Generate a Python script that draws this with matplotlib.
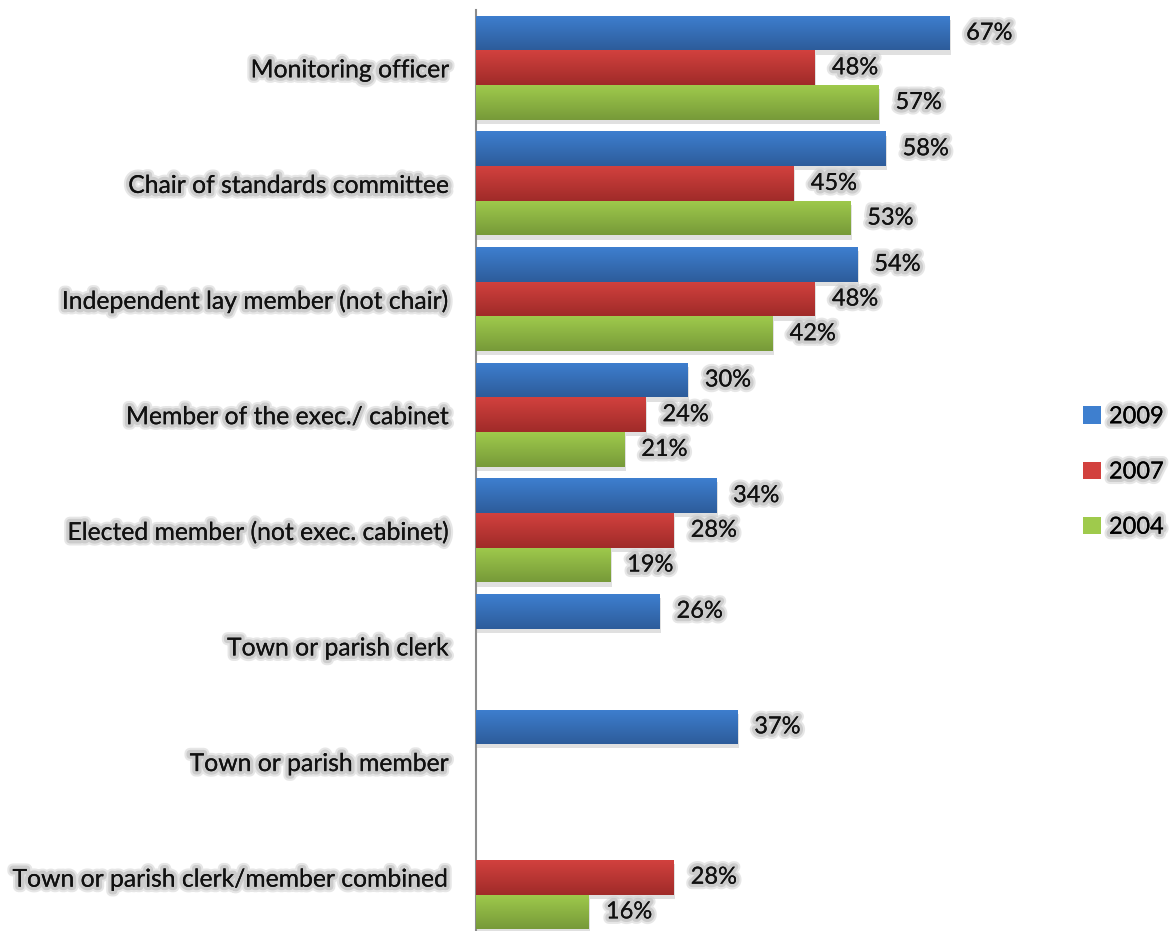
import numpy as np
import matplotlib.pyplot as plt
import matplotlib.patheffects as pe
from matplotlib.patches import Patch
from matplotlib.colors import LinearSegmentedColormap

plt.rcParams['font.family'] = ['Lato', 'DejaVu Sans']

categories = [
    "Monitoring officer",
    "Chair of standards committee",
    "Independent lay member (not chair)",
    "Member of the exec./ cabinet",
    "Elected member (not exec. cabinet)",
    "Town or parish clerk",
    "Town or parish member",
    "Town or parish clerk/member combined",
]
years = ["2009", "2007", "2004"]
v2009 = [67, 58, 54, 30, 34, 26, 37, None]
v2007 = [48, 45, 48, 24, 28, None, None, 28]
v2004 = [57, 53, 42, 21, 19, None, None, 16]

# top / bottom shade of each series
shades = [("#3e7fcf", "#2d5c9b"), ("#d2413e", "#a02b29"), ("#9fca4c", "#779a39")]

# soft grey halo behind every piece of text
glow = [pe.withStroke(linewidth=8, foreground="#cfcfcf", alpha=0.5),
        pe.withStroke(linewidth=5, foreground="#c2c2c2", alpha=0.7),
        pe.Normal()]
fs = 17

fig = plt.figure(figsize=(11.69, 9.31), dpi=100)
ax = fig.add_axes([476 / 1169, -4 / 931, 565 / 1169, 925 / 931])

n = len(categories)
bar_h = 0.3
grad = np.linspace(0, 1, 64).reshape(-1, 1)

for s, (vals, (top, bot)) in enumerate(zip([v2009, v2007, v2004], shades)):
    cmap = LinearSegmentedColormap.from_list("g%d" % s, [top, bot])
    for i, v in enumerate(vals):
        if v is None:
            continue
        y = i - bar_h + s * bar_h
        bar = ax.barh(y, v, height=bar_h, color=bot, linewidth=0, zorder=2,
                      path_effects=[pe.SimplePatchShadow(offset=(1, -3), shadow_rgbFace="#999999", alpha=0.3),
                                    pe.Normal()])[0]
        im = ax.imshow(grad, cmap=cmap, aspect="auto", zorder=3,
                       extent=[0, v, y + bar_h / 2, y - bar_h / 2])
        im.set_clip_path(bar)
        ax.text(v + 2.4, y, "%d%%" % v, va="center", ha="left", fontsize=fs,
                color="#111111", path_effects=glow, zorder=4)

ax.set_xlim(0, 80)
ax.set_ylim(n - 0.5, -0.5)
ax.set_yticks(range(n))
ax.set_yticklabels(categories, fontsize=17.8, color="#111111")
for lab in ax.get_yticklabels():
    lab.set_path_effects(glow)
ax.tick_params(axis="y", length=0, pad=19)
ax.set_xticks([])
for side in ["top", "right", "bottom"]:
    ax.spines[side].set_visible(False)
ax.spines["left"].set_color("#8c8c8c")
ax.spines["left"].set_linewidth(1.5)

handles = [Patch(facecolor=c[0], edgecolor="none") for c in shades]
leg = fig.legend(handles, years, loc="center left", bbox_to_anchor=(1083 / 1169, 1 - 472 / 931),
                 frameon=False, fontsize=fs, handlelength=0.75, handleheight=0.75,
                 handletextpad=0.35, labelspacing=1.45, borderpad=0, borderaxespad=0)
for t in leg.get_texts():
    t.set_path_effects(glow)

fig.savefig("out.png", dpi=100)
